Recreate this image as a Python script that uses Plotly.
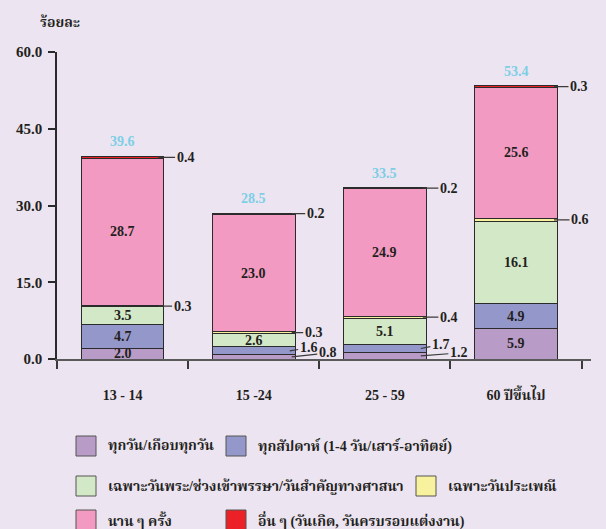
import plotly.graph_objects as go

# ----------------------------------------------------------------------
# Data
# ----------------------------------------------------------------------
categories = ['13 - 14', '15 -24', '25 - 59', '60 ปีขึ้นไป']

series_names = ['ทุกวัน/เกือบทุกวัน',
                'ทุกสัปดาห์ (1-4 วัน/เสาร์-อาทิตย์)',
                'เฉพาะวันพระ/ช่วงเข้าพรรษา/วันสำคัญทางศาสนา',
                'เฉพาะวันประเพณี',
                'นาน ๆ ครั้ง',
                'อื่น ๆ (วันเกิด, วันครบรอบแต่งงาน)']

daily = [2.0, 0.8, 1.2, 5.9]
weekly = [4.7, 1.6, 1.7, 4.9]
religious = [3.5, 2.6, 5.1, 16.1]
tradition = [0.3, 0.3, 0.4, 0.6]
rarely = [28.7, 23.0, 24.9, 25.6]
other = [0.4, 0.2, 0.2, 0.3]

totals = [39.6, 28.5, 33.5, 53.4]

y_ticks = [0, 15, 30, 45, 60]

# ----------------------------------------------------------------------
# Styling
# ----------------------------------------------------------------------
series_values = [daily, weekly, religious, tradition, rarely, other]
colors = ['#b89bc7', '#9497c9', '#d3e8c6', '#f8f29f', '#f29ac1', '#ec2027']

FONT = 'Liberation Serif, Noto Serif Thai, Noto Sans Thai, serif'
TXT = '#231f20'
BG = '#ece4f0'


def bold(size=14, color=TXT):
    return dict(family=FONT, size=size, color=color, weight='bold')


# outside labels: (series index, category index) -> (xshift, ax, ay)
outside = {
    (5, 0): (36, 27, 0), (3, 0): (36, 24, 0),
    (5, 1): (38, 24, 0), (3, 1): (38, 22, 0),
    (1, 1): (36, 19, -3), (0, 1): (38, 36, -4),
    (5, 2): (38, 26, 0), (3, 2): (38, 26, 0),
    (1, 2): (36, 20, -4), (0, 2): (36, 38, -3),
    (5, 3): (38, 25, 0), (3, 3): (38, 26, 0),
}

fig = go.Figure()

for name, vals, col in zip(series_names, series_values, colors):
    fig.add_trace(
        go.Bar(
            x=categories,
            y=vals,
            name=name,
            marker=dict(color=col, line=dict(color='#2b2b2b', width=1)),
            showlegend=False
        )
    )

annotations = []

# value labels
for c, cat in enumerate(categories):
    base = 0
    for s, vals in enumerate(series_values):
        v = vals[c]
        mid = base + v / 2
        if (s, c) in outside:
            xs, ax, ay = outside[(s, c)]
            annotations.append(dict(
                x=cat, y=mid, xref='x', yref='y', text=f'{v:.1f}',
                showarrow=True, arrowhead=0, arrowwidth=1.2,
                arrowcolor='#3a3a3a', ax=ax, ay=ay, xshift=xs,
                font=bold()
            ))
        else:
            annotations.append(dict(
                x=cat, y=mid, xref='x', yref='y', text=f'{v:.1f}',
                showarrow=False, font=bold()
            ))
        base += v
    # total label
    annotations.append(dict(
        x=cat, y=totals[c], xref='x', yref='y', text=f'{totals[c]:.1f}',
        showarrow=False, yanchor='bottom', yshift=5,
        font=bold(color='#7ccfe6')
    ))


def px(x):
    return (x - 57) / 534


def py(y):
    return (359 - y) / 307


# y axis title
annotations.append(dict(
    x=px(38), y=py(22), xref='paper', yref='paper', text='ร้อยละ',
    showarrow=False, xanchor='left', yanchor='middle', font=bold()
))

# legend drawn by hand (3 rows, 2 items each)
legend_pos = [(76, 446), (226, 446), (76, 486), (416, 486), (76, 520),
              (226, 520)]
shapes = []
for name, col, (lx, ly) in zip(series_names, colors, legend_pos):
    shapes.append(dict(
        type='rect', xref='paper', yref='paper',
        x0=px(lx), x1=px(lx + 20), y0=py(ly + 10), y1=py(ly - 10),
        fillcolor=col, line=dict(color='#555555', width=1)
    ))
    annotations.append(dict(
        x=px(lx + 30), y=py(ly), xref='paper', yref='paper', text=name,
        showarrow=False, xanchor='left', yanchor='middle', font=bold()
    ))

fig.update_layout(
    barmode='stack',
    bargap=0.37,
    width=606,
    height=529,
    margin=dict(l=57, r=15, t=52, b=170),
    paper_bgcolor=BG,
    plot_bgcolor=BG,
    font=bold(),
    xaxis=dict(
        automargin=False,
        showline=True, linecolor='#5a5a5a', linewidth=2,
        ticks='outside', tickson='boundaries', ticklen=8,
        tickcolor='#3a3a3a', tickwidth=1.5,
        ticklabelstandoff=22,
        tickfont=bold(),
        showgrid=False
    ),
    yaxis=dict(
        automargin=False,
        range=[0, 60], tickvals=y_ticks,
        ticktext=[f'{t:.1f}' for t in y_ticks],
        showline=True, linecolor='#2b2b2b', linewidth=1.5,
        ticks='outside', ticklen=7, tickcolor='#2b2b2b', tickwidth=1.5,
        ticklabelstandoff=3,
        tickfont=bold(15),
        showgrid=False, zeroline=False
    ),
    annotations=annotations,
    shapes=shapes
)

# page body has a default margin; drop it so the chart fills the window
fig.write_html('out.html',
               config=dict(displayModeBar=False),
               post_script="document.body.style.margin='0px';"
                           "document.body.style.background='#ece4f0';"
                           "document.body.style.overflow='hidden';")
